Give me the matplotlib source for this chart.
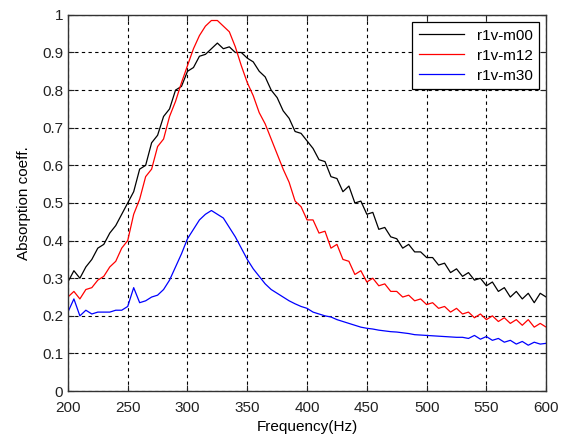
import matplotlib.pyplot as plt
import numpy as np

plt.rcParams["font.family"] = ["Liberation Sans", "DejaVu Sans"]

freq = np.arange(200, 601, 5)

m00 = [0.29, 0.32, 0.30, 0.33, 0.35, 0.38, 0.39, 0.42, 0.44, 0.47,
       0.50, 0.53, 0.59, 0.60, 0.66, 0.68, 0.73, 0.75, 0.80, 0.81,
       0.85, 0.86, 0.89, 0.895, 0.91, 0.925, 0.91, 0.915, 0.90, 0.90,
       0.885, 0.875, 0.85, 0.835, 0.80, 0.78, 0.745, 0.725, 0.69, 0.685,
       0.665, 0.645, 0.615, 0.61, 0.57, 0.565, 0.53, 0.545, 0.50, 0.505,
       0.47, 0.475, 0.43, 0.435, 0.41, 0.405, 0.38, 0.39, 0.37, 0.37,
       0.355, 0.355, 0.335, 0.34, 0.315, 0.325, 0.305, 0.315, 0.295, 0.30,
       0.28, 0.29, 0.265, 0.275, 0.25, 0.265, 0.245, 0.26, 0.235, 0.26,
       0.25]

m12 = [0.25, 0.265, 0.245, 0.27, 0.275, 0.295, 0.305, 0.33, 0.345, 0.38,
       0.40, 0.47, 0.51, 0.57, 0.59, 0.65, 0.67, 0.73, 0.77, 0.82,
       0.865, 0.91, 0.945, 0.97, 0.985, 0.985, 0.97, 0.955, 0.915, 0.865,
       0.82, 0.785, 0.74, 0.71, 0.67, 0.63, 0.59, 0.555, 0.505, 0.49,
       0.455, 0.455, 0.42, 0.425, 0.38, 0.39, 0.35, 0.345, 0.31, 0.32,
       0.29, 0.30, 0.28, 0.285, 0.265, 0.265, 0.25, 0.255, 0.24, 0.245,
       0.23, 0.235, 0.22, 0.225, 0.21, 0.22, 0.205, 0.21, 0.195, 0.205,
       0.19, 0.20, 0.185, 0.195, 0.18, 0.19, 0.175, 0.19, 0.17, 0.18,
       0.17]

m30 = [0.21, 0.245, 0.20, 0.215, 0.205, 0.21, 0.21, 0.21, 0.215, 0.215,
       0.225, 0.275, 0.235, 0.24, 0.25, 0.255, 0.27, 0.295, 0.33, 0.365,
       0.405, 0.43, 0.455, 0.47, 0.48, 0.47, 0.46, 0.435, 0.41, 0.38,
       0.35, 0.325, 0.305, 0.285, 0.27, 0.26, 0.25, 0.24, 0.232, 0.225,
       0.22, 0.21, 0.205, 0.20, 0.197, 0.19, 0.185, 0.18, 0.175, 0.17,
       0.167, 0.165, 0.162, 0.16, 0.158, 0.157, 0.155, 0.153, 0.15, 0.149,
       0.148, 0.147, 0.146, 0.145, 0.144, 0.143, 0.143, 0.14, 0.148, 0.138,
       0.145, 0.135, 0.14, 0.13, 0.135, 0.125, 0.132, 0.122, 0.13, 0.125,
       0.127]

series = [("r1v-m00", m00, "black"), ("r1v-m12", m12, "#ff0000"), ("r1v-m30", m30, "#0000ff")]

fig = plt.figure(figsize=(5.66, 4.37), dpi=100)
ax = fig.add_axes([0.120, 0.105, 0.845, 0.861])

for name, vals, col in series:
    ax.plot(freq, vals, color=col, linewidth=0.9, label=name)

ax.set_xlim(200, 600)
ax.set_ylim(0, 1)
ax.set_xticks(np.arange(200, 601, 50))
ax.set_yticks(np.arange(0, 1.01, 0.1))
ax.set_yticklabels(["0", "0.1", "0.2", "0.3", "0.4", "0.5", "0.6", "0.7", "0.8", "0.9", "1"])
ax.grid(True, color="black", linestyle=(0, (3, 3)), linewidth=0.8)
ax.tick_params(direction="in", top=True, right=True, labelsize=11, length=4, colors="#222222")
ax.tick_params(axis="x", pad=7)
for sp in ax.spines.values():
    sp.set_linewidth(1.0)
    sp.set_color("#333333")

ax.set_xlabel("Frequency(Hz)", fontsize=11, labelpad=4)
ax.set_ylabel("Absorption coeff.", fontsize=11, labelpad=8)

leg = ax.legend(loc="upper right", fontsize=11, handlelength=3.0, fancybox=False,
                framealpha=1, edgecolor="black", borderaxespad=0.5, labelspacing=0.4)
leg.get_frame().set_linewidth(0.9)

fig.savefig("out.png", dpi=100)
